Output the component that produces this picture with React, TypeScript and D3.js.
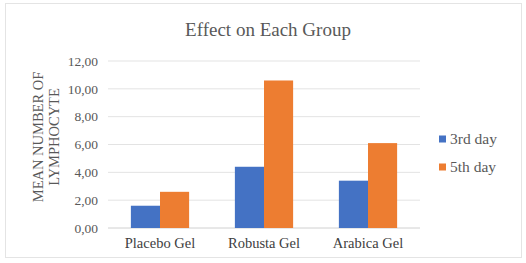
import React from 'react'
import * as d3 from 'd3'

const WIDTH = 526
const HEIGHT = 263

const categories = ['Placebo Gel', 'Robusta Gel', 'Arabica Gel']
const seriesNames = ['3rd day', '5th day']
const day3 = [1.6, 4.4, 3.4]
const day5 = [2.6, 10.6, 6.1]
const yTicks = [0, 2, 4, 6, 8, 10, 12]
const colors = ['#4472C4', '#ED7D31']

// Times New Roman resolves to a real serif here; the Liberation name did not
const FONT = '"Times New Roman", serif'
const TEXT = '#595959'

export default function App() {
  const margin = { left: 108, right: 106, top: 61, bottom: 35 }
  const plotW = WIDTH - margin.left - margin.right
  const plotH = HEIGHT - margin.top - margin.bottom

  const x = d3.scaleBand().domain(categories).range([0, plotW]).paddingInner(0.44).paddingOuter(0.22)
  const x1 = d3.scaleBand().domain(seriesNames).range([0, x.bandwidth()])
  const y = d3.scaleLinear().domain([0, 12]).range([plotH, 0])
  const fmt = (v: number) => d3.format('.2f')(v).replace('.', ',')

  const series = [day3, day5]

  return (
    <svg width={WIDTH} height={HEIGHT} style={{ position: 'absolute', left: 0, top: 0, fontFamily: FONT }}>
      <rect x={0} y={0} width={WIDTH} height={HEIGHT} fill='#fff' />
      <rect x={5.5} y={3.5} width={516} height={254} fill='none' stroke='#e4e4e4' />
      <text x={268} y={36} textAnchor='middle' fontSize={19} fill={TEXT}>
        Effect on Each Group
      </text>

      <g transform={`translate(${margin.left},${margin.top})`}>
        {yTicks.map((t) => (
          <g key={t}>
            <line x1={0} x2={plotW} y1={y(t)} y2={y(t)} stroke={t === 0 ? '#d0d0d0' : '#e3e3e3'} />
            <text x={-10} y={y(t)} dy='0.35em' textAnchor='end' fontSize={13.5} fill={TEXT}>
              {fmt(t)}
            </text>
          </g>
        ))}
        {categories.map((c, i) => (
          <g key={c} transform={`translate(${x(c)},0)`}>
            {seriesNames.map((s, j) => (
              <rect
                key={s}
                x={x1(s)}
                y={y(series[j][i])}
                width={x1.bandwidth()}
                height={plotH - y(series[j][i])}
                fill={colors[j]}
              />
            ))}
            <text x={x.bandwidth() / 2} y={plotH + 20} textAnchor='middle' fontSize={14.5} fill='#404040'>
              {c}
            </text>
          </g>
        ))}
      </g>

      <g transform='translate(49,137) rotate(-90)' fontSize={14.5} fill={TEXT} textAnchor='middle'>
        <text x={0} y={-6}>MEAN NUMBER OF</text>
        <text x={0} y={10}>LYMPHOCYTE</text>
      </g>

      {seriesNames.map((s, j) => (
        <g key={s} transform={`translate(439,${139 + j * 28})`}>
          <rect x={0} y={-3.5} width={7} height={7} fill={colors[j]} />
          <text x={11} y={0} dy='0.35em' fontSize={15.5} fill={TEXT}>
            {s}
          </text>
        </g>
      ))}
    </svg>
  )
}
